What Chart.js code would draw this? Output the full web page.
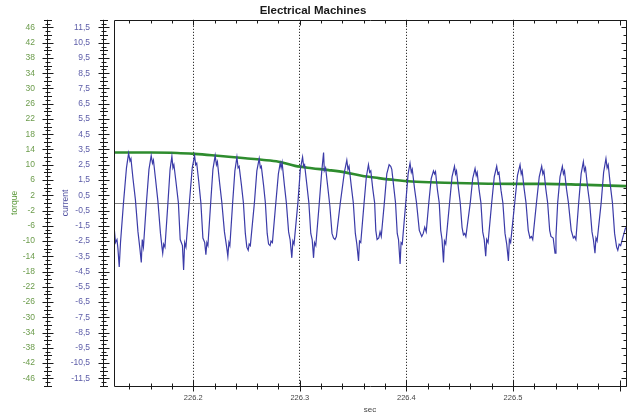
<!DOCTYPE html>
<html>
<head>
<meta charset="utf-8">
<title>Electrical Machines</title>
<script src="https://cdn.jsdelivr.net/npm/chart.js@4.4.1/dist/chart.umd.min.js"></script>
<style>
  html, body { margin: 0; padding: 0; background: #fff; }
  canvas { display: block; }
</style>
</head>
<body>
<canvas id="chart" width="632" height="416"></canvas>
<script>
// current trace (time in s, current in A)
const timeSec = [
  226.1257, 226.1271, 226.1285, 226.1294, 226.1306, 226.1318, 226.1346, 226.1374, 226.1394, 226.1407,
  226.1416, 226.1435, 226.1458, 226.1482, 226.1500, 226.1513, 226.1522, 226.1533, 226.1561, 226.1585,
  226.1606, 226.1618, 226.1627, 226.1646, 226.1669, 226.1693, 226.1707, 226.1714, 226.1723, 226.1735,
  226.1763, 226.1783, 226.1800, 226.1810, 226.1819, 226.1838, 226.1861, 226.1878, 226.1899, 226.1910,
  226.1920, 226.1932, 226.1964, 226.1991, 226.2013, 226.2023, 226.2033, 226.2052, 226.2072, 226.2091,
  226.2108, 226.2119, 226.2128, 226.2138, 226.2164, 226.2185, 226.2206, 226.2218, 226.2227, 226.2248,
  226.2269, 226.2293, 226.2314, 226.2325, 226.2335, 226.2344, 226.2370, 226.2391, 226.2410, 226.2421,
  226.2431, 226.2452, 226.2471, 226.2489, 226.2503, 226.2516, 226.2525, 226.2536, 226.2574, 226.2597,
  226.2619, 226.2630, 226.2639, 226.2661, 226.2677, 226.2694, 226.2707, 226.2721, 226.2730, 226.2743,
  226.2775, 226.2799, 226.2816, 226.2825, 226.2834, 226.2855, 226.2874, 226.2895, 226.2909, 226.2925,
  226.2935, 226.2946, 226.2982, 226.3005, 226.3026, 226.3036, 226.3045, 226.3066, 226.3085, 226.3103,
  226.3116, 226.3129, 226.3138, 226.3150, 226.3183, 226.3205, 226.3223, 226.3230, 226.3242, 226.3263,
  226.3282, 226.3302, 226.3316, 226.3330, 226.3343, 226.3380, 226.3418, 226.3441, 226.3452, 226.3462,
  226.3483, 226.3502, 226.3521, 226.3535, 226.3551, 226.3560, 226.3572, 226.3603, 226.3624, 226.3644,
  226.3655, 226.3666, 226.3685, 226.3702, 226.3713, 226.3725, 226.3741, 226.3753, 226.3764, 226.3793,
  226.3816, 226.3838, 226.3853, 226.3863, 226.3882, 226.3898, 226.3914, 226.3926, 226.3941, 226.3950,
  226.3961, 226.3994, 226.4016, 226.4034, 226.4046, 226.4055, 226.4077, 226.4095, 226.4121, 226.4144,
  226.4158, 226.4172, 226.4186, 226.4210, 226.4233, 226.4254, 226.4264, 226.4273, 226.4292, 226.4308,
  226.4322, 226.4334, 226.4348, 226.4357, 226.4369, 226.4405, 226.4428, 226.4451, 226.4461, 226.4470,
  226.4489, 226.4505, 226.4522, 226.4535, 226.4547, 226.4558, 226.4599, 226.4622, 226.4644, 226.4655,
  226.4664, 226.4683, 226.4699, 226.4716, 226.4730, 226.4744, 226.4753, 226.4766, 226.4800, 226.4824,
  226.4847, 226.4858, 226.4868, 226.4888, 226.4905, 226.4925, 226.4941, 226.4957, 226.4966, 226.4978,
  226.5016, 226.5042, 226.5066, 226.5077, 226.5086, 226.5105, 226.5122, 226.5143, 226.5159, 226.5173,
  226.5185, 226.5220, 226.5246, 226.5269, 226.5280, 226.5290, 226.5308, 226.5325, 226.5344, 226.5356,
  226.5377, 226.5394, 226.5403, 226.5419, 226.5441, 226.5463, 226.5473, 226.5483, 226.5502, 226.5520,
  226.5546, 226.5566, 226.5578, 226.5590, 226.5616, 226.5639, 226.5660, 226.5670, 226.5680, 226.5700,
  226.5719, 226.5741, 226.5754, 226.5769, 226.5778, 226.5789, 226.5827, 226.5850, 226.5872, 226.5883,
  226.5893, 226.5914, 226.5933, 226.5953, 226.5972, 226.5983, 226.5996, 226.6010, 226.6033, 226.6057
];
const current = [
  -1.5, -2.6, -2.4, -3.0, -4.2, -2.6, 0.0, 2.3, 3.25, 2.75,
  2.9, 1.6, 0.2, -1.9, -3.0, -3.9, -2.4, -2.9, 0.0, 2.2,
  3.1, 2.6, 2.8, 1.6, 0.1, -2.0, -2.9, -3.3, -2.7, -2.9,
  0.0, 2.2, 3.05, 2.3, 2.5, 1.4, 0.0, -2.4, -2.8, -4.4,
  -2.6, -2.9, 0.0, 2.3, 3.1, 2.5, 2.6, 1.4, 0.0, -2.3,
  -2.6, -3.4, -2.6, -2.8, 0.0, 2.2, 3.1, 2.5, 2.7, 1.3,
  0.0, -1.9, -2.9, -3.5, -2.6, -2.8, 0.0, 2.1, 3.0, 2.3,
  2.4, 1.2, 0.0, -2.0, -2.9, -3.1, -2.7, -2.8, 0.0, 2.1,
  2.9, 2.3, 2.4, 1.1, 0.0, -2.0, -2.7, -2.8, -2.5, -2.6,
  0.0, 1.9, 2.6, 2.3, 2.65, 1.2, 0.0, -1.9, -2.4, -3.6,
  -2.5, -2.7, 0.0, 2.2, 3.0, 2.4, 2.5, 1.2, 0.0, -2.0,
  -2.4, -3.6, -2.6, -2.8, 0.0, 2.0, 3.3, 2.1, 2.3, 1.0,
  -0.2, -2.0, -2.3, -2.4, -2.2, 0.0, 2.0, 2.8, 2.2, 2.4,
  1.1, 0.0, -2.0, -2.7, -3.8, -2.5, -2.6, 0.0, 1.7, 2.5,
  2.0, 2.1, 0.9, 0.0, -1.8, -2.4, -2.3, -1.9, -2.2, 0.0,
  1.9, 2.5, 2.4, 2.2, 1.0, 0.0, -2.0, -2.4, -4.0, -2.6,
  -2.7, 0.0, 1.9, 2.6, 2.0, 2.2, 0.9, 0.0, -1.8, -2.2,
  -2.0, -1.6, -1.9, 0.0, 1.6, 2.1, 1.9, 2.05, 0.8, 0.0,
  -1.8, -2.4, -3.9, -2.5, -2.7, 0.0, 1.7, 2.4, 1.9, 2.1,
  0.9, 0.0, -1.6, -2.1, -2.0, -2.2, 0.0, 1.6, 2.25, 1.8,
  2.0, 0.8, 0.0, -1.9, -2.4, -3.5, -2.4, -2.6, 0.0, 1.7,
  2.4, 1.9, 2.0, 0.8, 0.0, -2.0, -2.7, -3.8, -2.4, -2.6,
  0.0, 1.8, 2.5, 1.9, 2.1, 0.9, 0.0, -1.8, -2.3, -2.2,
  -2.4, 0.0, 1.7, 2.4, 1.9, 2.1, 0.9, 0.0, -1.8, -2.2,
  -2.3, -3.3, -2.2, 0.0, 1.7, 2.4, 1.9, 2.1, 0.9, 0.0,
  -1.8, -2.3, -2.2, -2.4, 0.0, 1.9, 2.7, 2.1, 2.3, 1.0,
  0.0, -1.9, -2.4, -3.3, -2.3, -2.5, 0.0, 2.0, 2.9, 2.3,
  2.5, 1.1, 0.0, -2.0, -2.9, -3.1, -2.7, -2.8, -2.2, -1.6
];

// torque trace (smooth, so fewer readings)
const torqueTime = [
  226.1257, 226.16, 226.185, 226.2013, 226.2175, 226.2332, 226.2488, 226.2644,
  226.2801, 226.2956, 226.3113, 226.327, 226.3425, 226.358, 226.374, 226.389,
  226.405, 226.436, 226.467, 226.5, 226.531, 226.562, 226.606
];
const torque = [
  13.2, 13.2, 13.1, 12.85, 12.5, 12.1, 11.7, 11.3,
  10.8, 9.7, 9.1, 8.6, 8.0, 7.1, 6.5, 6.0,
  5.6, 5.3, 5.1, 5.0, 5.0, 4.8, 4.4
];

const timeTicks = [226.2, 226.3, 226.4, 226.5];
const currentTicks = [11.5, 10.5, 9.5, 8.5, 7.5, 6.5, 5.5, 4.5, 3.5, 2.5, 1.5, 0.5,
  -0.5, -1.5, -2.5, -3.5, -4.5, -5.5, -6.5, -7.5, -8.5, -9.5, -10.5, -11.5];
const torqueTicks = [46, 42, 38, 34, 30, 26, 22, 18, 14, 10, 6, 2,
  -2, -6, -10, -14, -18, -22, -26, -30, -34, -38, -42, -46];

Chart.defaults.font.family = 'Arial, "Liberation Sans", Helvetica, sans-serif';

// fixed axis sizes so the plot frame sits where the scope drew it
function fixSize(w, h) {
  return s => {
    if (w) s.width = w;
    if (h) s.height = h;
    s.paddingTop = 0;
    s.paddingBottom = 0;
    s.paddingLeft = 0;
    s.paddingRight = 0;
  };
}

// frame, zero line and the ruler-style tick marks of the scope display
const scopeFrame = {
  id: 'scopeFrame',
  beforeDatasetsDraw(chart) {
    const { ctx, chartArea: a } = chart;
    const y0 = Math.round(chart.scales.yCurrent.getPixelForValue(0)) + 0.5;
    ctx.save();
    ctx.strokeStyle = '#808080';
    ctx.lineWidth = 1;
    ctx.beginPath();
    ctx.moveTo(a.left, y0);
    ctx.lineTo(a.right, y0);
    ctx.stroke();
    ctx.restore();
  },
  afterDraw(chart) {
    const { ctx, chartArea: a, scales } = chart;
    const px = v => Math.round(v) + 0.5;
    ctx.save();
    ctx.strokeStyle = '#1a1a1a';
    ctx.lineWidth = 1;
    ctx.beginPath();
    ctx.rect(px(a.left), px(a.top), Math.round(a.right) - Math.round(a.left), Math.round(a.bottom) - Math.round(a.top));

    // time ruler, every 0.02 s
    const xs = scales.x;
    for (let k = Math.ceil(xs.min * 50); k <= Math.floor(xs.max * 50); k++) {
      const x = px(xs.getPixelForValue(k / 50));
      const major = k % 5 === 0;
      ctx.moveTo(x, px(a.bottom) - (major ? 6 : 3));
      ctx.lineTo(x, px(a.bottom) + (major ? 5 : 3));
      ctx.moveTo(x, px(a.top));
      ctx.lineTo(x, px(a.top) + (major ? 5 : 3));
    }

    // left rulers, quarter steps of the current scale
    const yc = scales.yCurrent;
    [scales.yTorque, yc].forEach(s => {
      const cx = px(s.right - 11);
      ctx.moveTo(cx, a.top);
      ctx.lineTo(cx, a.bottom);
      for (let q = -48; q <= 48; q++) {
        const y = px(yc.getPixelForValue(q / 4));
        const r = Math.abs(q % 4);
        const len = r === 2 ? 5 : (r === 0 ? 3.5 : 2);
        ctx.moveTo(cx - len, y);
        ctx.lineTo(cx + len + 1, y);
      }
    });

    // inner ticks on the right edge
    for (let h = -24; h <= 24; h++) {
      const y = px(yc.getPixelForValue(h / 2));
      const len = h % 2 ? 5 : 3;
      ctx.moveTo(px(a.right) - len, y);
      ctx.lineTo(px(a.right), y);
    }
    ctx.stroke();
    ctx.restore();
  }
};

new Chart(document.getElementById('chart'), {
  type: 'line',
  data: {
    datasets: [
      {
        label: 'current',
        data: timeSec.map((t, i) => ({ x: t, y: current[i] })),
        yAxisID: 'yCurrent',
        borderColor: '#3b3ba8',
        borderWidth: 1.2,
        pointRadius: 0,
        tension: 0
      },
      {
        label: 'torque',
        data: torqueTime.map((t, i) => ({ x: t, y: torque[i] })),
        yAxisID: 'yTorque',
        borderColor: '#2e8c2e',
        borderWidth: 2.6,
        pointRadius: 0,
        cubicInterpolationMode: 'monotone'
      }
    ]
  },
  options: {
    responsive: false,
    animation: false,
    devicePixelRatio: 1,
    layout: { padding: { left: 0, right: 6, top: 0, bottom: 0 } },
    plugins: {
      legend: { display: false },
      tooltip: { enabled: false },
      title: {
        display: true,
        text: 'Electrical Machines',
        color: '#1a1a1a',
        font: { size: 11.5, weight: 'bold' },
        padding: { top: 4, bottom: 2 }
      }
    },
    scales: {
      x: {
        type: 'linear',
        position: 'bottom',
        min: 226.1257,
        max: 226.606,
        afterBuildTicks: s => { s.ticks = timeTicks.map(v => ({ value: v })); },
        afterFit: fixSize(0, 30),
        ticks: {
          autoSkip: false, maxRotation: 0, padding: 7,
          color: '#444', font: { size: 7.5 },
          callback: v => v.toFixed(1)
        },
        grid: { color: '#000', lineWidth: 1, drawTicks: false },
        border: { display: false, dash: [1, 2] },
        title: { display: true, text: 'sec', color: '#444', font: { size: 8 }, padding: { top: 0, bottom: 1 } }
      },
      yTorque: {
        position: 'left',
        weight: 2,
        min: -48,
        max: 48,
        afterBuildTicks: s => { s.ticks = torqueTicks.map(v => ({ value: v })); },
        afterFit: fixSize(58, 0),
        ticks: { autoSkip: false, padding: 23, color: '#6c9c4c', font: { size: 8.5 }, callback: v => String(v) },
        grid: { display: false, drawTicks: false },
        border: { display: false },
        title: { display: true, text: 'torque', color: '#5d9a3c', font: { size: 8.5 }, padding: { top: 10, bottom: 0 } }
      },
      yCurrent: {
        position: 'left',
        weight: 1,
        min: -12,
        max: 12,
        afterBuildTicks: s => { s.ticks = currentTicks.map(v => ({ value: v })); },
        afterFit: fixSize(56, 0),
        ticks: { autoSkip: false, padding: 24, color: '#5c5ca8', font: { size: 8.5 }, callback: v => String(v).replace('.', ',') },
        grid: { display: false, drawTicks: false },
        border: { display: false },
        title: { display: true, text: 'current', color: '#5050a0', font: { size: 8.5 }, padding: { top: 3, bottom: 0 } }
      }
    }
  },
  plugins: [scopeFrame]
});
</script>
</body>
</html>
